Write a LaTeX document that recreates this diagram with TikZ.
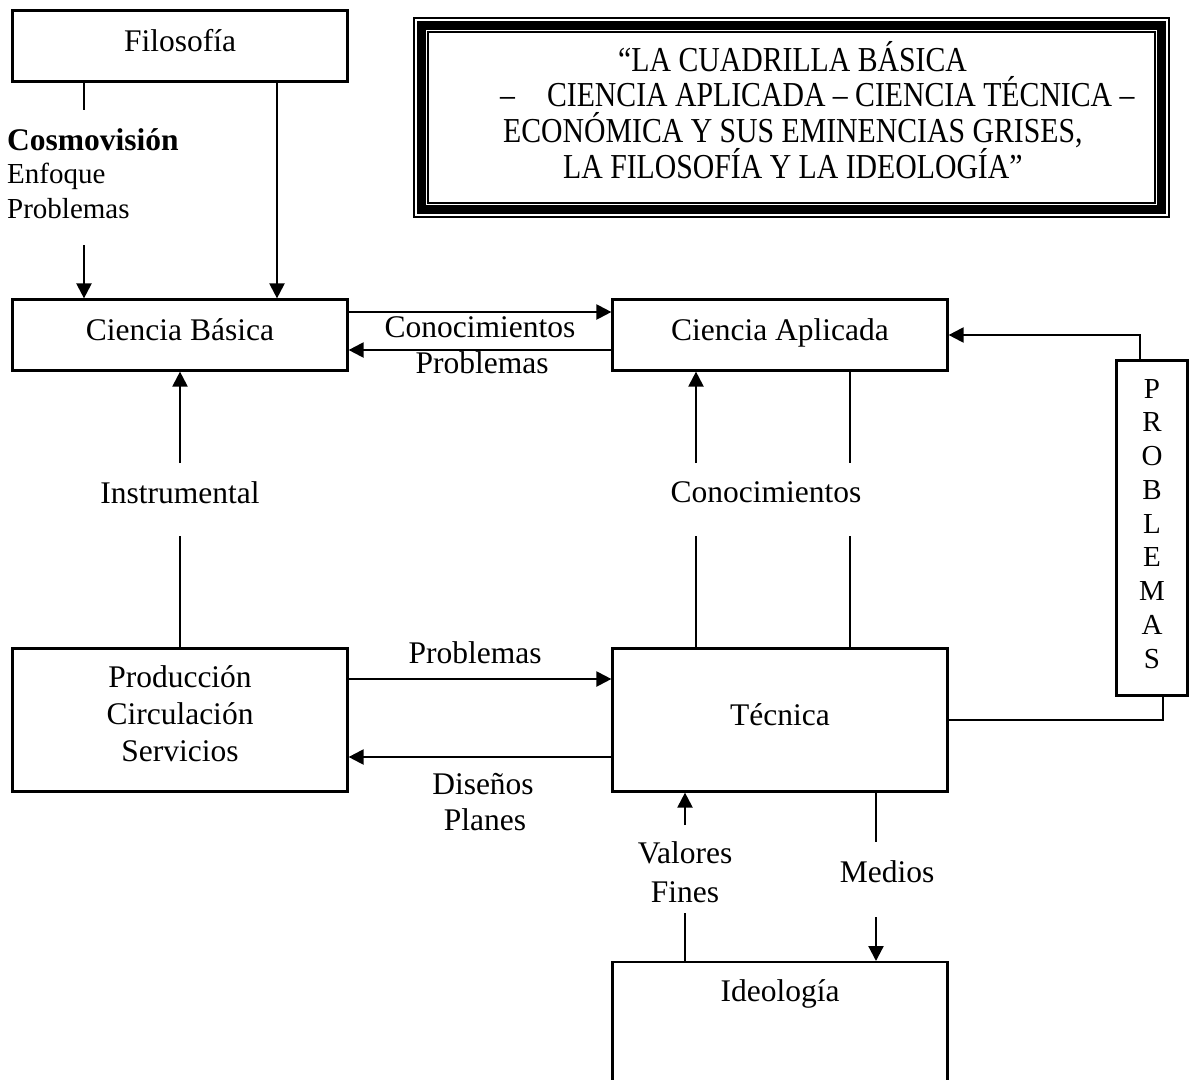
\documentclass[tikz,border=0pt]{standalone}
\usepackage{fontspec}
\setmainfont{Liberation Serif}
\usetikzlibrary{arrows.meta}
\tikzset{
  box/.style={draw, line width=2.2pt, minimum width=335pt, inner sep=0pt},
  link/.style={line width=2.2pt},
  arr/.style={line width=2.2pt, -{Triangle[length=15pt,width=15pt]}},
  txt/.style={inner sep=0pt, anchor=base, font=\fontsize{31.5}{37.5}\selectfont},
  small/.style={inner sep=0pt, anchor=base west, font=\fontsize{29}{34}\selectfont},
  ttl/.style={inner sep=0pt, anchor=base west, font=\fontsize{35}{36}\selectfont},
  letter/.style={inner sep=0pt, anchor=base, font=\fontsize{29}{34}\selectfont},
}
\begin{document}
\begin{tikzpicture}[x=1pt,y=-1pt]
\fill[white] (0,0) rectangle (1196,1079);
\useasboundingbox (0,0) rectangle (1196,1079);

% boxes
\node[box, minimum height=71pt] (filo) at (180,46) {};
\node[box, minimum height=71pt] (cb) at (180,335) {};
\node[box, minimum height=71pt] (ca) at (780,335) {};
\node[box, minimum height=143pt] (prod) at (180,720) {};
\node[box, minimum height=143pt] (tec) at (780,720) {};
\node[box, minimum height=180pt, anchor=north] (ideo) at (780,961) {};
\node[draw, line width=2.2pt, minimum width=71pt, minimum height=335pt, inner sep=0pt] (prob) at (1152,528) {};

% title frame: thin, thick, thin
\node[draw, line width=2pt, minimum width=755pt, minimum height=199pt, inner sep=0pt] (title) at (791.5,117.5) {};
\draw[line width=8.5pt] ([shift={(8.5,8.5)}]title.north west) rectangle ([shift={(-8.5,-8.5)}]title.south east);
\draw[line width=1.5pt] ([shift={(15,15)}]title.north west) rectangle ([shift={(-15,-15)}]title.south east);

% title text
\node[ttl] (t1) at (618,71) {\scalebox{0.85}[1]{“LA CUADRILLA BÁSICA}};
\node[ttl] (t2) at (500,106) {\scalebox{0.85}[1]{–\hspace*{37.6pt}CIENCIA APLICADA – CIENCIA TÉCNICA –}};
\node[ttl] (t3) at (503,142) {\scalebox{0.85}[1]{ECONÓMICA Y SUS EMINENCIAS GRISES,}};
\node[ttl] (t4) at (563,178) {\scalebox{0.85}[1]{LA FILOSOFÍA Y LA IDEOLOGÍA”}};

% box texts
\node[txt] (filoT) at (180,51) {Filosofía};
\node[txt] (cbT) at (180,340) {Ciencia Básica};
\node[txt] (caT) at (780,340) {Ciencia Aplicada};
\node[txt] (prodT1) at (180,687) {Producción};
\node[txt] (prodT2) at (180,724) {Circulación};
\node[txt] (prodT3) at (180,761) {Servicios};
\node[txt] (tecT) at (780,725) {Técnica};
\node[txt] (ideoT) at (780,1001) {Ideología};
\foreach \l [count=\i from 0] in {P,R,O,B,L,E,M,A,S}
  \node[letter] (pl\i) at (1152,{398+33.75*\i}) {\l};

% connector labels
\node[small, font=\fontsize{31.5}{37}\selectfont\bfseries] (cosmo) at (7,150) {Cosmovisión};
\node[small] (enf) at (7,183) {Enfoque};
\node[small] (probL) at (7,218) {Problemas};
\node[txt] (con1) at (480,337) {Conocimientos};
\node[txt] (pro1) at (482,373) {Problemas};
\node[txt] (instr) at (180,503) {Instrumental};
\node[txt] (con2) at (766,502) {Conocimientos};
\node[txt] (pro2) at (475,663) {Problemas};
\node[txt] (dis) at (483,794) {Diseños};
\node[txt] (pla) at (485,830) {Planes};
\node[txt] (val) at (685,863) {Valores};
\node[txt] (fin) at (685,902) {Fines};
\node[txt] (med) at (887,882) {Medios};

% free ends and guide coordinates
\coordinate (f1) at (84,110);
\coordinate (f2) at (84,245);
\coordinate (xr) at (277,0);
\coordinate (ya) at (0,312);
\coordinate (yb) at (0,350);
\coordinate (i1) at (180,463);
\coordinate (i2) at (180,536);
\coordinate (k1) at (696,463);
\coordinate (k2) at (696,536);
\coordinate (m1) at (850,463);
\coordinate (m2) at (850,536);
\coordinate (yc) at (0,679);
\coordinate (yd) at (0,757);
\coordinate (xq) at (1163,0);
\coordinate (xp) at (1140,0);
\coordinate (v1) at (685,825);
\coordinate (v2) at (685,913);
\coordinate (d1) at (876,842);
\coordinate (d2) at (876,917);

% Filosofía -> Ciencia Básica
\draw[link] (filo.south -| f1) -- (f1);
\draw[arr] (f2) -- (cb.north -| f2);
\draw[arr] (filo.south -| xr) -- (cb.north -| xr);

% Ciencia Básica <-> Ciencia Aplicada
\draw[arr] (cb.east |- ya) -- (ca.west |- ya);
\draw[arr] (ca.west |- yb) -- (cb.east |- yb);

% Instrumental
\draw[arr] (i1) -- (cb.south);
\draw[link] (prod.north) -- (i2);

% Conocimientos
\draw[arr] (k1) -- (ca.south -| k1);
\draw[link] (tec.north -| k2) -- (k2);
\draw[link] (ca.south -| m1) -- (m1);
\draw[link] (tec.north -| m2) -- (m2);

% Producción <-> Técnica
\draw[arr] (prod.east |- yc) -- (tec.west |- yc);
\draw[arr] (tec.west |- yd) -- (prod.east |- yd);

% Técnica -> PROBLEMAS -> Ciencia Aplicada
\draw[link] (tec.east) -| (prob.south -| xq);
\draw[arr] (prob.north -| xp) |- (ca.east);

% Técnica <-> Ideología
\draw[arr] (v1) -- (tec.south -| v1);
\draw[link] (ideo.north -| v2) -- (v2);
\draw[link] (tec.south -| d1) -- (d1);
\draw[arr] (d2) -- (ideo.north -| d2);
\end{tikzpicture}
\end{document}
